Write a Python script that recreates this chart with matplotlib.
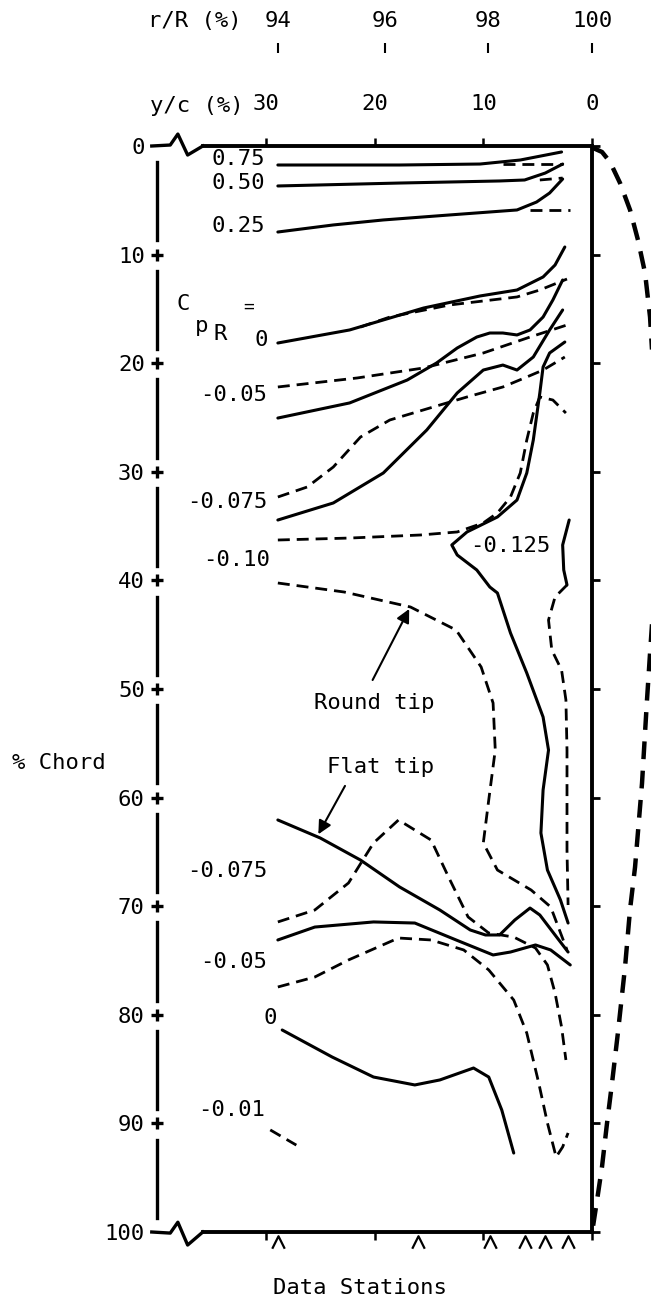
import matplotlib
matplotlib.use('Agg')
import matplotlib.pyplot as plt
from matplotlib.path import Path

plt.rcParams['font.family'] = ['DejaVu Sans Mono', 'DejaVu Sans']
plt.rcParams['font.size'] = 16

# scales (positions in y/c %)
yc_ticks = [30, 20, 10, 0]
rR_labels = ['94', '96', '98', '100']
rR_pos = [28.9, 19.0, 9.6, 0.0]
chord_ticks = list(range(0, 101, 10))
station_yc = [28.9, 16.0, 9.4, 6.2, 4.3, 2.2]

# ---- flat tip contours (solid), x = y/c %, y = % chord
s075_x = [28.9, 17.7, 10.3, 6.6, 2.8]
s075_y = [1.75, 1.75, 1.66, 1.29, 0.55]
s050_x = [28.9, 17.7, 8.5, 6.2, 4.3, 2.7]
s050_y = [3.68, 3.41, 3.22, 3.13, 2.49, 1.66]
s025_x = [28.9, 23.8, 19.2, 13.1, 6.9, 5.1, 3.9, 2.7]
s025_y = [7.92, 7.27, 6.81, 6.35, 5.89, 5.16, 4.33, 3.04]
s000_x = [28.9, 22.3, 15.5, 10.3, 6.9, 4.5, 3.4, 2.5]
s000_y = [18.14, 16.94, 14.92, 13.81, 13.26, 12.06, 10.96, 9.30]
s005_x = [28.9, 22.3, 17.0, 14.3, 12.4, 10.6, 9.4, 8.2, 6.9, 5.7, 4.5, 3.6, 2.7]
s005_y = [25.05, 23.66, 21.55, 19.98, 18.60, 17.59, 17.22, 17.22, 17.40, 16.94, 15.75, 14.18, 12.34]
s0075_x = [28.9, 23.8, 19.2, 15.2, 12.4, 10.0, 8.2, 6.9, 5.4, 3.9, 2.7]
s0075_y = [34.44, 32.87, 30.11, 26.15, 22.74, 20.63, 20.17, 20.63, 19.43, 16.94, 15.10]
s010_x = [2.5, 3.9, 4.5, 4.8, 5.4, 6.0, 6.9, 8.7, 11.5, 12.9, 12.4, 10.6, 9.4, 8.7,
          7.5, 6.0, 4.5, 4.0, 4.5, 4.7, 4.1, 2.9, 2.2]
s010_y = [18.05, 19.06, 20.35, 22.74, 27.07, 30.11, 32.60, 34.16, 35.54, 36.74, 37.66,
          39.04, 40.61, 41.16, 44.84, 48.53, 52.58, 55.62, 59.30, 63.26, 66.67, 69.43, 71.55]
s0125_x = [2.1, 2.7, 2.6, 2.3]
s0125_y = [34.44, 36.74, 39.04, 40.42]
sflat_x = [28.9, 25.0, 21.3, 17.7, 14.0, 11.2, 9.8, 8.5, 7.1, 5.7, 4.8, 3.4, 2.2]
sflat_y = [62.06, 63.72, 65.75, 68.23, 70.35, 72.19, 72.65, 72.65, 71.27, 70.17, 70.81, 72.65, 74.22]
s005b_x = [28.9, 25.5, 20.1, 16.3, 12.5, 9.1, 7.5, 5.2, 3.8, 2.0]
s005b_y = [73.11, 71.92, 71.45, 71.55, 73.11, 74.49, 74.22, 73.57, 74.03, 75.41]
s000b_x = [28.5, 23.9, 20.1, 16.3, 14.0, 10.9, 9.5, 8.3, 7.2]
s000b_y = [81.40, 83.89, 85.73, 86.46, 86.00, 84.90, 85.73, 88.77, 92.73]

# ---- round tip contours (dashed)
d075_x = [8.2, 2.7]
d075_y = [1.66, 1.66]
d050_x = [4.8, 2.7]
d050_y = [3.13, 2.95]
d025_x = [5.7, 2.0]
d025_y = [5.89, 5.89]
d000_x = [21.3, 18.6, 13.1, 6.9, 4.8, 2.3]
d000_y = [16.67, 15.75, 14.64, 13.90, 13.26, 12.25]
d005_x = [28.9, 21.6, 15.5, 10.0, 5.7, 2.3]
d005_y = [22.19, 21.36, 20.44, 19.06, 17.59, 16.48]
d0075_x = [28.9, 26.2, 23.8, 21.3, 18.6, 14.6, 11.5, 8.2, 6.0, 4.5, 2.5]
d0075_y = [32.32, 31.40, 29.56, 26.80, 25.23, 24.03, 23.11, 22.19, 21.27, 20.63, 19.43]
d010_x = [28.9, 22.3, 15.8, 12.4, 10.0, 8.7, 7.5, 6.6, 6.0, 5.4, 4.8, 3.6, 2.4]
d010_y = [36.28, 36.10, 35.82, 35.54, 34.71, 33.79, 32.32, 30.11, 27.07, 24.59, 23.11, 23.39, 24.59]
dround_x = [28.9, 22.8, 16.7, 12.5, 10.2, 9.1, 8.9, 9.5, 10.0, 8.7, 5.6, 3.8, 2.3]
dround_y = [40.24, 41.07, 42.45, 44.57, 47.97, 51.29, 55.62, 60.22, 64.18, 66.67, 68.51, 70.07, 74.03]
d0125_x = [2.3, 3.4, 4.0, 3.7, 2.8, 2.4, 2.3, 2.3, 2.3, 2.2]
d0125_y = [40.42, 41.53, 43.65, 46.41, 48.25, 51.01, 55.62, 60.22, 64.83, 69.89]
d0075b_x = [28.9, 25.5, 22.4, 20.1, 17.8, 14.8, 13.2, 11.4, 9.5, 7.2, 5.2, 4.1, 3.4, 2.8, 2.4]
d0075b_y = [71.45, 70.35, 67.86, 64.18, 62.06, 63.91, 67.31, 70.99, 72.47, 72.84, 73.85,
            75.41, 77.99, 81.12, 84.16]
d005b_x = [28.9, 25.5, 22.4, 17.8, 14.8, 11.8, 9.5, 7.2, 6.0, 4.9, 4.1, 3.3, 2.7, 2.2]
d005b_y = [77.44, 76.52, 74.95, 72.93, 73.11, 74.03, 75.87, 78.64, 81.68, 86.28, 89.96,
           93.09, 92.17, 90.88]
d001_x = [29.6, 27.2]
d001_y = [90.6, 92.0]
# outline of the round tip, outside the box
dout_x = [-0.09, -0.92, -1.66, -2.58, -3.50, -4.23, -4.88, -5.34, -5.80, -5.98, -5.80,
          -5.34, -5.06, -4.60, -3.96, -3.50, -3.04, -2.39, -1.84, -1.38, -0.92, -0.46, -0.09]
dout_y = [0.18, 0.55, 1.47, 3.41, 5.89, 8.66, 11.69, 15.75, 23.4, 30.8, 39.9, 46.7, 51.0,
          58.7, 66.4, 70.3, 75.6, 81.6, 86.3, 90.0, 94.0, 97.1, 99.5]

solid = [(s075_x, s075_y), (s050_x, s050_y), (s025_x, s025_y), (s000_x, s000_y),
         (s005_x, s005_y), (s0075_x, s0075_y), (s010_x, s010_y), (s0125_x, s0125_y),
         (sflat_x, sflat_y), (s005b_x, s005b_y), (s000b_x, s000b_y)]
dashed = [(d075_x, d075_y), (d050_x, d050_y), (d025_x, d025_y), (d000_x, d000_y),
          (d005_x, d005_y), (d0075_x, d0075_y), (d010_x, d010_y), (dround_x, dround_y),
          (d0125_x, d0125_y), (d0075b_x, d0075b_y), (d005b_x, d005b_y), (d001_x, d001_y)]

# contour labels: (y/c, chord, text, ha)
labels = [(30.1, 1.2, '0.75', 'right'), (30.1, 3.4, '0.50', 'right'),
          (30.1, 7.37, '0.25', 'right'), (29.8, 17.86, '0', 'right'),
          (29.9, 22.93, '-0.05', 'right'), (29.9, 32.78, '-0.075', 'right'),
          (29.6, 38.12, '-0.10', 'right'), (11.2, 36.83, '-0.125', 'left'),
          (29.9, 66.76, '-0.075', 'right'), (29.9, 75.14, '-0.05', 'right'),
          (29.6, 80.3, '0', 'center'), (30.1, 88.77, '-0.01', 'right')]

fig = plt.figure(figsize=(6.51, 13.0), dpi=100)
ax = fig.add_axes([157.2 / 651, 68 / 1300, 434.8 / 651, 1086 / 1300])
ax2 = ax.twiny()

ax.set_xlim(40, 0)
ax.set_ylim(100, 0)
ax2.set_xlim(40, 0)

for x, y in solid:
    ax.plot(x, y, color='k', lw=2.2, solid_capstyle='round', solid_joinstyle='round')
for x, y in dashed:
    ax.plot(x, y, color='k', lw=2.0, dashes=(4.3, 2.5), dash_joinstyle='round')
ax.plot(dout_x, dout_y, color='k', lw=3.2, dashes=(4, 2.6), clip_on=False)

for x, y, t, ha in labels:
    ax.text(x, y, t, ha=ha, va='center')

# C_pR =
ax.text(37.6, 14.55, 'C', ha='center', va='center')
ax.text(35.9, 16.6, 'p', ha='center', va='center')
ax.text(34.2, 17.3, 'R', ha='center', va='center')
ax.text(31.6, 14.8, '=', ha='center', va='center', fontsize=13)

ax.annotate('', xy=(16.7, 42.4), xytext=(20.3, 49.4),
            arrowprops=dict(arrowstyle='-|>', color='k', lw=1.5, mutation_scale=20))
ax.text(20.05, 51.29, 'Round tip', ha='center', va='center')
ax.annotate('', xy=(25.3, 63.6), xytext=(22.6, 58.7),
            arrowprops=dict(arrowstyle='-|>', color='k', lw=1.5, mutation_scale=20))
ax.text(19.5, 57.18, 'Flat tip', ha='center', va='center')

# box
ax.spines['left'].set_visible(False)
for s in ['top', 'bottom', 'right']:
    ax.spines[s].set_linewidth(2.8)
ax.spines['top'].set_bounds(35.8, 0)
ax.spines['bottom'].set_bounds(35.8, 0)

# broken left axis with "+" ticks
for k in range(10):
    ax.plot([40, 40], [k * 10 + 1.5, k * 10 + 8.7], color='k', lw=2.4, clip_on=False)
ax.plot([40] * 9, chord_ticks[1:-1], '+', color='k', ms=9, mew=2.4, clip_on=False)
brk_x = [40.5, 38.8, 38.1, 37.2, 35.8]
ax.plot(brk_x, [0, -0.09, -1.1, 0.83, 0], color='k', lw=2.4, clip_on=False)
ax.plot(brk_x, [100, 100.1, 99.1, 101.2, 100], color='k', lw=2.4, clip_on=False)

# data stations
caret = Path([(-1, -1), (0, 1), (1, -1)], [Path.MOVETO, Path.LINETO, Path.LINETO])
ax.plot(station_yc, [100.95] * len(station_yc), ls='none', marker=caret, ms=9,
        mfc='none', mec='k', mew=1.6, clip_on=False)

ax.set_xticks(yc_ticks)
ax.set_xticklabels([str(v) for v in yc_ticks])
ax.tick_params(axis='x', top=True, bottom=True, labeltop=True, labelbottom=False,
               direction='out', length=6, width=1.8, pad=17)
ax.set_yticks(chord_ticks)
ax.set_yticklabels([str(v) for v in chord_ticks])
ax.tick_params(axis='y', left=False, right=True, labelleft=True, labelright=False,
               direction='out', length=6, width=2, pad=3)

ax2.set_xticks(rR_pos)
ax2.set_xticklabels(rR_labels)
ax2.spines['top'].set_position(('outward', 67))
for s in ax2.spines.values():
    s.set_visible(False)
ax2.tick_params(axis='x', top=True, bottom=False, direction='out', length=7,
                width=1.5, pad=9)

fig.text(148 / 651, 1 - 21 / 1300, 'r/R (%)', ha='left', va='center')
fig.text(150 / 651, 1 - 106 / 1300, 'y/c (%)', ha='left', va='center')
fig.text(12 / 651, 1 - 763 / 1300, '% Chord', ha='left', va='center')
fig.text(360 / 651, 1 - 1288 / 1300, 'Data Stations', ha='center', va='center')

fig.savefig('out.png', dpi=100)
